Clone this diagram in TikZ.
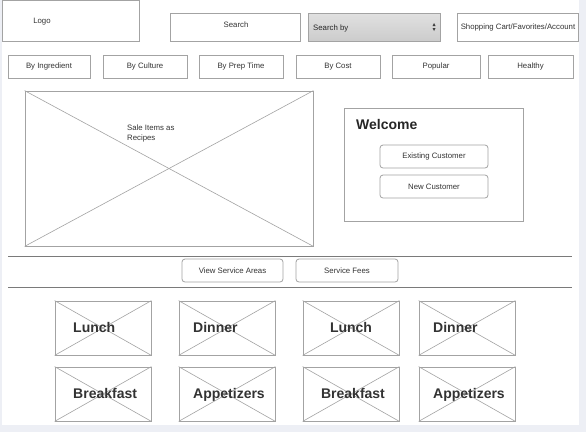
\documentclass[tikz,border=0pt]{standalone}
\usepackage{fontspec}
\setmainfont{Liberation Sans}
\usetikzlibrary{positioning}
\definecolor{pagebg}{HTML}{EDEFF5}
\definecolor{boxline}{HTML}{A3A3A3}
\definecolor{ruleline}{HTML}{7A7A7A}
\definecolor{ink}{HTML}{333333}
\tikzset{
  box/.style={draw=boxline, line width=0.8pt, fill=white, inner sep=0pt, text=ink, font=\fontsize{7.8}{9.5}\selectfont},
  roundbtn/.style={box, rounded corners=3pt},
  imgbox/.style={draw=boxline, line width=0.8pt, fill=white, inner sep=0pt},
  cross/.style={draw=boxline, line width=0.6pt},
  biglabel/.style={text=ink, font=\fontsize{14}{16}\selectfont\bfseries, inner sep=0pt},
  smalltext/.style={text=ink, font=\fontsize{7.8}{9.5}\selectfont, inner sep=0pt},
}
\begin{document}
\begin{tikzpicture}[x=1pt, y=-1pt]
      % page
      \fill[pagebg] (0,0) rectangle (586,432);
      \fill[white] (2,0) rectangle (579,425);
      \useasboundingbox (0,0) rectangle (586,432);

      % header
      \node[box, minimum width=137pt, minimum height=41pt] (logo) at (70.5,20.5) {};
      \node[smalltext, anchor=base] (logotxt) at (42,23.5) {Logo};
      \node[box, minimum width=130pt, minimum height=28pt] (search) at (235,27) {};
      \node[smalltext, anchor=base] (searchtxt) at (236,27) {Search};
      \node[draw=boxline, line width=0.8pt, top color=white!88!black, bottom color=white!80!black,
            inner sep=0pt, minimum width=132pt, minimum height=28pt] (sby) at (374,27) {};
      \node[smalltext, anchor=base west, text=black!85] (sbytxt) at (313,30) {Search by};
      \fill[black!75] (432.5,26) -- (435.5,26) -- (434,23) -- cycle;
      \fill[black!75] (432.5,28) -- (435.5,28) -- (434,31) -- cycle;
      \node[box, minimum width=121pt, minimum height=28pt] (cart) at (518,27) {Shopping Cart/Favorites/Account};

      % categories
      \node[box, minimum width=82pt, minimum height=23pt] (ingr) at (49,66.5) {By Ingredient};
      \node[box, minimum width=84pt, minimum height=23pt] (cult) at (145,66.5) {By Culture};
      \node[box, minimum width=84pt, minimum height=23pt] (prep) at (241,66.5) {By Prep Time};
      \node[box, minimum width=84pt, minimum height=23pt] (cost) at (338,66.5) {By Cost};
      \node[box, minimum width=88pt, minimum height=23pt] (popular) at (436,66.5) {Popular};
      \node[box, minimum width=85pt, minimum height=23pt] (healthy) at (530.5,66.5) {Healthy};

      % sale items
      \node[imgbox, minimum width=288pt, minimum height=155pt] (sale) at (169,168.5) {};
      \draw[cross] (sale.north west) -- (sale.south east);
      \draw[cross] (sale.south west) -- (sale.north east);
      \node[smalltext, anchor=north west, align=left] (saletxt) at (127,125) {Sale Items as\\Recipes};

      % welcome
      \node[box, minimum width=179pt, minimum height=113pt] (welcome) at (433.5,164.5) {};
      \node[biglabel, anchor=base west, text=black!85] (welcometxt) at (356,129) {Welcome};
      \node[roundbtn, minimum width=108pt, minimum height=23pt] (existing) at (434,156.5) {Existing Customer};
      \node[roundbtn, minimum width=108pt, minimum height=23pt] (newcust) at (434,186.5) {New Customer};

      % service bar
      \coordinate (rulea) at (8,256);
      \coordinate (ruleb) at (572,256);
      \coordinate (rulec) at (8,287);
      \coordinate (ruled) at (572,287);
      \draw[ruleline, line width=1pt] (rulea) -- (ruleb);
      \draw[ruleline, line width=1pt] (rulec) -- (ruled);
      \node[roundbtn, minimum width=101pt, minimum height=23pt] (areas) at (232.5,270.5) {View Service Areas};
      \node[roundbtn, minimum width=102pt, minimum height=23pt] (fees) at (347,270.5) {Service Fees};

      % meal tiles
      \node[imgbox, minimum width=96pt, minimum height=54pt] (tilea) at (103,328) {};
      \node[imgbox, minimum width=96pt, minimum height=54pt] (tileb) at (227,328) {};
      \node[imgbox, minimum width=96pt, minimum height=54pt] (tilec) at (351,328) {};
      \node[imgbox, minimum width=96pt, minimum height=54pt] (tiled) at (467,328) {};
      \node[imgbox, minimum width=96pt, minimum height=54pt] (tilee) at (103,394) {};
      \node[imgbox, minimum width=96pt, minimum height=54pt] (tilef) at (227,394) {};
      \node[imgbox, minimum width=96pt, minimum height=54pt] (tileg) at (351,394) {};
      \node[imgbox, minimum width=96pt, minimum height=54pt] (tileh) at (467,394) {};
      \foreach \t in {tilea,tileb,tilec,tiled,tilee,tilef,tileg,tileh} {
        \draw[cross] (\t.north west) -- (\t.south east);
        \draw[cross] (\t.south west) -- (\t.north east);
      }
      \node[biglabel, anchor=base west] (lunchA) at (73,332) {Lunch};
      \node[biglabel, anchor=base west] (dinnerA) at (193,332) {Dinner};
      \node[biglabel, anchor=base] (lunchB) at (351,332) {Lunch};
      \node[biglabel, anchor=base west] (dinnerB) at (433,332) {Dinner};
      \node[biglabel, anchor=base west] (breakfastA) at (73,398) {Breakfast};
      \node[biglabel, anchor=base west] (appetizersA) at (193,398) {Appetizers};
      \node[biglabel, anchor=base] (breakfastB) at (353,398) {Breakfast};
      \node[biglabel, anchor=base west] (appetizersB) at (433,398) {Appetizers};

    \end{tikzpicture}
\end{document}
